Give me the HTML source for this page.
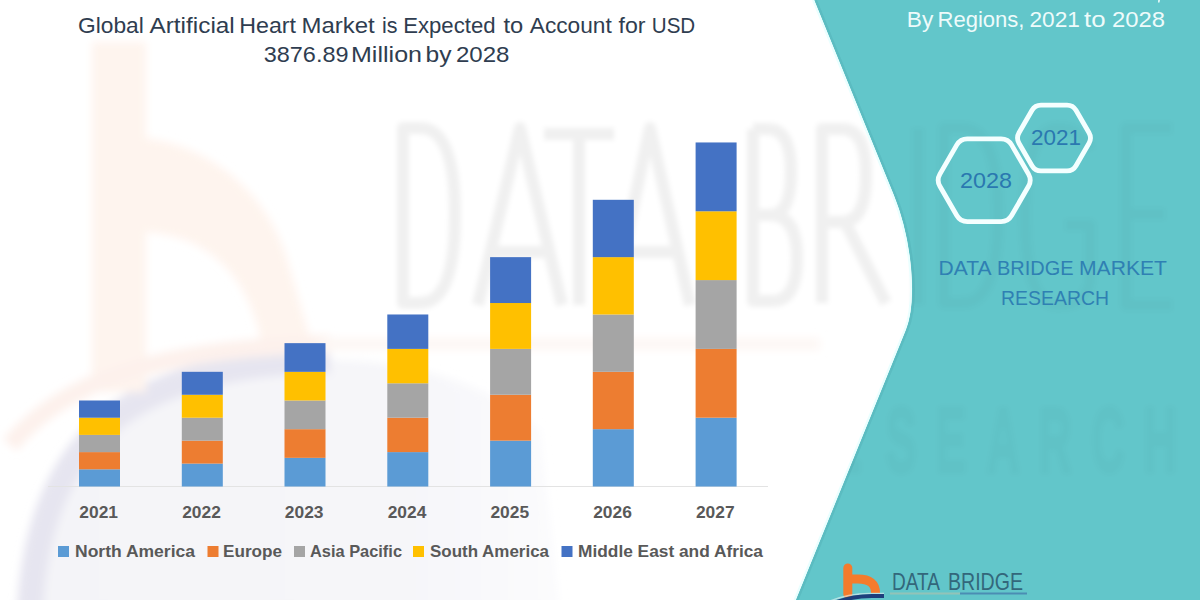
<!DOCTYPE html>
<html><head><meta charset="utf-8">
<style>
html,body{margin:0;padding:0;width:1200px;height:600px;overflow:hidden;background:#fff;}
svg{position:absolute;left:0;top:0;}
text{font-family:"Liberation Sans",sans-serif;}
</style></head>
<body>
<svg width="1200" height="600" viewBox="0 0 1200 600">
<defs>
    <filter id="bl" x="-20%" y="-20%" width="140%" height="140%"><feGaussianBlur stdDeviation="2.8"/></filter>
    <filter id="bl2" x="-20%" y="-20%" width="140%" height="140%"><feGaussianBlur stdDeviation="4"/></filter>
    <linearGradient id="lavg" x1="0" y1="0" x2="1" y2="0">
      <stop offset="0" stop-color="#f4f4f8"/><stop offset="0.7" stop-color="#f6f6f9"/><stop offset="1" stop-color="#fbfbfd"/>
    </linearGradient>
  </defs>
  <!-- watermark b + swoosh (white region) -->
  <g filter="url(#bl2)">
    <path d="M30,610 C40,430 140,364 330,360 C420,360 500,390 540,430 L560,610 Z" fill="url(#lavg)"/>
    <path d="M30,610 C40,430 140,364 330,360" fill="none" stroke="#e6e5f0" stroke-width="26"/>
    <rect x="92" y="42" width="54" height="350" fill="#fef4ee"/>
    <path d="M146,138 C205,146 262,185 286,255 L312,345 L262,345 C252,295 225,238 146,232 Z" fill="#fef4ee"/>
    <path d="M10,445 C60,385 150,348 330,344" fill="none" stroke="#fdf1ec" stroke-width="18"/>
    <path d="M320,344 L820,344" fill="none" stroke="#fdf7f4" stroke-width="12"/>
  </g>
  <!-- watermark DATABRIDGE (white) -->
  <g fill="none" stroke="#000" stroke-opacity="0.058" stroke-width="12" filter="url(#bl)" stroke-linejoin="round">
    <path d="M403,128 L403,303 L420,303 Q455,303 455,215 Q455,128 420,128 Z"/>
    <path d="M478,305 L520,128 L562,305 M490,252 L550,252"/>
    <path d="M544,134 L614,134 M579,134 L579,305"/>
    <path d="M612,305 L650,128 L690,305 M623,252 L678,252"/>
    <path d="M753,129 L753,301 L772,301 Q797,301 797,258 Q797,215 770,215 L753,215 M770,215 Q791,215 791,172 Q791,129 768,129 L753,129"/>
    <path d="M822,303 L822,129 L842,129 Q866,129 866,175 Q866,222 842,222 L822,222 M845,222 L886,303"/>
    <path d="M918,128 L918,305"/>
    <path d="M944,128 L944,303 L962,303 Q998,303 998,215 Q998,128 962,128 Z"/>
    <path d="M1090,150 Q1080,128 1058,128 Q1025,128 1025,215 Q1025,305 1058,305 Q1090,305 1090,275 L1090,225 L1065,225"/>
    <path d="M1172,128 L1126,128 L1126,305 L1172,305 M1126,214 L1165,214"/>
  </g>
  <!-- teal panel -->
  <path d="M814.2,0 L893.8,195 C912.2,240.2 917.6,301 905.8,330 L795.8,600 L1200,600 L1200,0 Z" fill="#62c6ca"/>
  <path d="M814.2,0 L893.8,195 C912.2,240.2 917.6,301 905.8,330 L795.8,600" fill="none" stroke="#58b8bd" stroke-width="2.4" transform="translate(1.6 0)" opacity="0.7"/>
  <path d="M814.2,0 L893.8,195 C912.2,240.2 917.6,301 905.8,330 L795.8,600" fill="none" stroke="#eaffff" stroke-width="2" transform="translate(-1.2 0)"/>
  <!-- watermark on teal -->
  <clipPath id="tealclip"><path d="M814.2,0 L893.8,195 C912.2,240.2 917.6,301 905.8,330 L795.8,600 L1200,600 L1200,0 Z"/></clipPath>
  <g clip-path="url(#tealclip)">
    <g fill="none" stroke="#000" stroke-opacity="0.024" stroke-width="12" filter="url(#bl)" stroke-linejoin="round">
    <path d="M403,128 L403,303 L420,303 Q455,303 455,215 Q455,128 420,128 Z"/>
    <path d="M478,305 L520,128 L562,305 M490,252 L550,252"/>
    <path d="M544,134 L614,134 M579,134 L579,305"/>
    <path d="M612,305 L650,128 L690,305 M623,252 L678,252"/>
    <path d="M753,129 L753,301 L772,301 Q797,301 797,258 Q797,215 770,215 L753,215 M770,215 Q791,215 791,172 Q791,129 768,129 L753,129"/>
    <path d="M822,303 L822,129 L842,129 Q866,129 866,175 Q866,222 842,222 L822,222 M845,222 L886,303"/>
    <path d="M918,128 L918,305"/>
    <path d="M944,128 L944,303 L962,303 Q998,303 998,215 Q998,128 962,128 Z"/>
    <path d="M1090,150 Q1080,128 1058,128 Q1025,128 1025,215 Q1025,305 1058,305 Q1090,305 1090,275 L1090,225 L1065,225"/>
    <path d="M1172,128 L1126,128 L1126,305 L1172,305 M1126,214 L1165,214"/>
  </g>
  </g>






  <g clip-path="url(#tealclip)"><g fill="#000" fill-opacity="0.02" stroke="#000" stroke-opacity="0.02" stroke-width="3" font-size="92" font-weight="700" filter="url(#bl)"><text x="794" y="472" transform="translate(794 0) scale(0.5 1) translate(-794 0)" text-anchor="middle">R</text><text x="846" y="472" transform="translate(846 0) scale(0.5 1) translate(-846 0)" text-anchor="middle">E</text><text x="901" y="472" transform="translate(901 0) scale(0.5 1) translate(-901 0)" text-anchor="middle">S</text><text x="951" y="472" transform="translate(951 0) scale(0.5 1) translate(-951 0)" text-anchor="middle">E</text><text x="1003" y="472" transform="translate(1003 0) scale(0.5 1) translate(-1003 0)" text-anchor="middle">A</text><text x="1055" y="472" transform="translate(1055 0) scale(0.5 1) translate(-1055 0)" text-anchor="middle">R</text><text x="1108" y="472" transform="translate(1108 0) scale(0.5 1) translate(-1108 0)" text-anchor="middle">C</text><text x="1160" y="472" transform="translate(1160 0) scale(0.5 1) translate(-1160 0)" text-anchor="middle">H</text></g></g>
  <!-- title -->
  <g fill="#2f3d50" font-size="22">
    <text x="78.0" y="32.5" textLength="65.75" lengthAdjust="spacingAndGlyphs">Global</text>
    <text x="149.5" y="32.5" textLength="85.25" lengthAdjust="spacingAndGlyphs">Artificial</text>
    <text x="239.25" y="32.5" textLength="56.75" lengthAdjust="spacingAndGlyphs">Heart</text>
    <text x="301.5" y="32.5" textLength="73.25" lengthAdjust="spacingAndGlyphs">Market</text>
    <text x="382.0" y="32.5" textLength="15.5" lengthAdjust="spacingAndGlyphs">is</text>
    <text x="403.25" y="32.5" textLength="92.25" lengthAdjust="spacingAndGlyphs">Expected</text>
    <text x="503.5" y="32.5" textLength="19.75" lengthAdjust="spacingAndGlyphs">to</text>
    <text x="529.75" y="32.5" textLength="82.0" lengthAdjust="spacingAndGlyphs">Account</text>
    <text x="618.5" y="32.5" textLength="27.0" lengthAdjust="spacingAndGlyphs">for</text>
    <text x="651.75" y="32.5" textLength="43.5" lengthAdjust="spacingAndGlyphs">USD</text>
    <text x="263.75" y="62" textLength="84.75" lengthAdjust="spacingAndGlyphs">3876.89</text>
    <text x="351.0" y="62" textLength="71.0" lengthAdjust="spacingAndGlyphs">Million</text>
    <text x="425.5" y="62" textLength="26.0" lengthAdjust="spacingAndGlyphs">by</text>
    <text x="456.0" y="62" textLength="53.5" lengthAdjust="spacingAndGlyphs">2028</text>
  </g>

  <!-- axis -->
  <rect x="48" y="486" width="720" height="1" fill="#e3e3e3"/>

  <!-- bars: bottom 486.5, unit 28.67 -->
  <g id="bars">
    <rect x="79" y="469.30" width="41" height="17.21" fill="#5b9bd5"/>
    <rect x="79" y="452.10" width="41" height="17.21" fill="#ed7d31"/>
    <rect x="79" y="434.89" width="41" height="17.21" fill="#a5a5a5"/>
    <rect x="79" y="417.69" width="41" height="17.21" fill="#ffc000"/>
    <rect x="79" y="400.49" width="41" height="17.21" fill="#4472c4"/>
    <rect x="181.8" y="463.56" width="41" height="22.95" fill="#5b9bd5"/>
    <rect x="181.8" y="440.63" width="41" height="22.95" fill="#ed7d31"/>
    <rect x="181.8" y="417.69" width="41" height="22.95" fill="#a5a5a5"/>
    <rect x="181.8" y="394.76" width="41" height="22.95" fill="#ffc000"/>
    <rect x="181.8" y="371.82" width="41" height="22.95" fill="#4472c4"/>
    <rect x="284.5" y="457.83" width="41" height="28.68" fill="#5b9bd5"/>
    <rect x="284.5" y="429.16" width="41" height="28.68" fill="#ed7d31"/>
    <rect x="284.5" y="400.49" width="41" height="28.68" fill="#a5a5a5"/>
    <rect x="284.5" y="371.82" width="41" height="28.68" fill="#ffc000"/>
    <rect x="284.5" y="343.15" width="41" height="28.68" fill="#4472c4"/>
    <rect x="387.3" y="452.10" width="41" height="34.41" fill="#5b9bd5"/>
    <rect x="387.3" y="417.69" width="41" height="34.41" fill="#ed7d31"/>
    <rect x="387.3" y="383.29" width="41" height="34.41" fill="#a5a5a5"/>
    <rect x="387.3" y="348.88" width="41" height="34.41" fill="#ffc000"/>
    <rect x="387.3" y="314.48" width="41" height="34.41" fill="#4472c4"/>
    <rect x="490.1" y="440.63" width="41" height="45.88" fill="#5b9bd5"/>
    <rect x="490.1" y="394.76" width="41" height="45.88" fill="#ed7d31"/>
    <rect x="490.1" y="348.88" width="41" height="45.88" fill="#a5a5a5"/>
    <rect x="490.1" y="303.01" width="41" height="45.88" fill="#ffc000"/>
    <rect x="490.1" y="257.14" width="41" height="45.88" fill="#4472c4"/>
    <rect x="592.8" y="429.16" width="41" height="57.35" fill="#5b9bd5"/>
    <rect x="592.8" y="371.82" width="41" height="57.35" fill="#ed7d31"/>
    <rect x="592.8" y="314.48" width="41" height="57.35" fill="#a5a5a5"/>
    <rect x="592.8" y="257.14" width="41" height="57.35" fill="#ffc000"/>
    <rect x="592.8" y="199.80" width="41" height="57.35" fill="#4472c4"/>
    <rect x="695.6" y="417.69" width="41" height="68.82" fill="#5b9bd5"/>
    <rect x="695.6" y="348.88" width="41" height="68.82" fill="#ed7d31"/>
    <rect x="695.6" y="280.08" width="41" height="68.82" fill="#a5a5a5"/>
    <rect x="695.6" y="211.27" width="41" height="68.82" fill="#ffc000"/>
    <rect x="695.6" y="142.46" width="41" height="68.82" fill="#4472c4"/>
  </g>

  <!-- x labels -->
  <g fill="#595959" font-size="17.4" font-weight="700" text-anchor="middle">
    <text x="98.7" y="518.4">2021</text>
    <text x="201.5" y="518.4">2022</text>
    <text x="304.2" y="518.4">2023</text>
    <text x="407.0" y="518.4">2024</text>
    <text x="509.8" y="518.4">2025</text>
    <text x="612.5" y="518.4">2026</text>
    <text x="715.3" y="518.4">2027</text>
  </g>

  <!-- legend -->
  <g font-size="17" font-weight="700" fill="#595959">
    <rect x="58" y="546" width="11" height="11" fill="#5b9bd5"/>
    <text x="75" y="556.5" textLength="120" lengthAdjust="spacingAndGlyphs">North America</text>
    <rect x="207.5" y="546" width="11" height="11" fill="#ed7d31"/>
    <text x="223" y="556.5" textLength="59" lengthAdjust="spacingAndGlyphs">Europe</text>
    <rect x="294" y="546" width="11" height="11" fill="#a5a5a5"/>
    <text x="310" y="556.5" textLength="92" lengthAdjust="spacingAndGlyphs">Asia Pacific</text>
    <rect x="413" y="546" width="11" height="11" fill="#ffc000"/>
    <text x="430" y="556.5" textLength="119" lengthAdjust="spacingAndGlyphs">South America</text>
    <rect x="561.5" y="546" width="11" height="11" fill="#4472c4"/>
    <text x="578" y="556.5" textLength="185" lengthAdjust="spacingAndGlyphs">Middle East and Africa</text>
  </g>

  <!-- right panel text -->
  <g fill="#eefbfb" font-size="22">
    <text x="906.75" y="26.6" textLength="26.5" lengthAdjust="spacingAndGlyphs">By</text>
    <text x="937.5" y="26.6" textLength="87.0" lengthAdjust="spacingAndGlyphs">Regions,</text>
    <text x="1029.5" y="26.6" textLength="50.5" lengthAdjust="spacingAndGlyphs">2021</text>
    <text x="1084.0" y="26.6" textLength="21.5" lengthAdjust="spacingAndGlyphs">to</text>
    <text x="1112.0" y="26.6" textLength="53.0" lengthAdjust="spacingAndGlyphs">2028</text>
  </g>

  <!-- hexagons -->
  <g fill="none" stroke="#f4ffff" stroke-width="4.8">
    <path d="M1089.00,132.80 Q1092.00,138.00 1089.00,143.20 L1076.00,165.71 Q1073.00,170.91 1067.00,170.91 L1041.00,170.91 Q1035.00,170.91 1032.00,165.71 L1019.00,143.20 Q1016.00,138.00 1019.00,132.80 L1032.00,110.29 Q1035.00,105.09 1041.00,105.09 L1067.00,105.09 Q1073.00,105.09 1076.00,110.29 Z"/>
    <path d="M1028.50,174.14 Q1032.00,180.20 1028.50,186.26 L1011.60,215.53 Q1008.10,221.60 1001.10,221.60 L967.30,221.60 Q960.30,221.60 956.80,215.53 L939.90,186.26 Q936.40,180.20 939.90,174.14 L956.80,144.87 Q960.30,138.80 967.30,138.80 L1001.10,138.80 Q1008.10,138.80 1011.60,144.87 Z"/>
  </g>
  <g fill="#2a78b0" font-size="22">
    <text x="1031" y="145" textLength="50" lengthAdjust="spacingAndGlyphs">2021</text>
    <text x="960" y="188.3" textLength="52" lengthAdjust="spacingAndGlyphs">2028</text>
  </g>
  <g fill="#2f80b3" font-size="20.6">
    <text x="938.5" y="274.8" textLength="53.0" lengthAdjust="spacingAndGlyphs">DATA</text>
    <text x="997.0" y="274.8" textLength="76.5" lengthAdjust="spacingAndGlyphs">BRIDGE</text>
    <text x="1079.0" y="274.8" textLength="88.0" lengthAdjust="spacingAndGlyphs">MARKET</text>
    <text x="1001.0" y="305" textLength="108.0" lengthAdjust="spacingAndGlyphs">RESEARCH</text>
  </g>

  <!-- comma remnant -->
  <path d="M1158.5,-3 L1160.5,-3 L1159.5,2.5 L1158,2.5 Z" fill="#eefbfb"/>
  <!-- bottom logo -->
  <g>
    <path d="M847.8,568 L847.8,594" stroke="#f47b2c" stroke-width="9" stroke-linecap="round" fill="none"/>
    <path d="M848,579 L858,579 Q875.5,579 875.5,593" stroke="#f47b2c" stroke-width="9" fill="none"/>
    <path d="M828,602 Q845,594 870,593.5 L884,593.5" stroke="#e8f4f4" stroke-width="1.5" fill="none" opacity="0.6"/>
    <path d="M832,604 Q850,596 872,596 L884,596" stroke="#1e3f7c" stroke-width="4" fill="none"/>
    <text x="892.0" y="590" font-size="24" fill="#33677b" textLength="48.0" lengthAdjust="spacingAndGlyphs">DATA</text><text x="948.0" y="590" font-size="24" fill="#33677b" textLength="75.0" lengthAdjust="spacingAndGlyphs">BRIDGE</text>
    <rect x="890" y="592.5" width="70" height="2" fill="#93c3b8"/>
    <rect x="960" y="592.5" width="67" height="2" fill="#4b8db3"/>
  </g>
</svg>
</body></html>
